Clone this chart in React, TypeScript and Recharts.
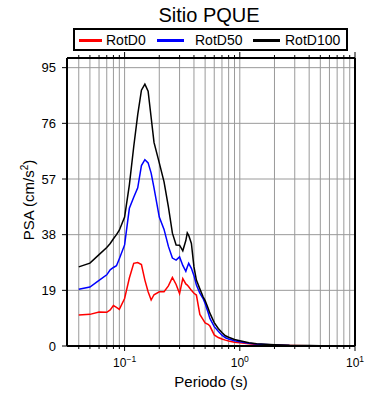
import React from "react";
import { LineChart, Line, XAxis, YAxis, CartesianGrid, Label } from "recharts";

const periods = [
  0.04, 0.05, 0.06, 0.07, 0.075, 0.08, 0.085, 0.09, 0.1, 0.11, 0.12, 0.13, 0.14, 0.15, 0.16, 0.17, 0.18,
  0.2, 0.22, 0.24, 0.26, 0.28, 0.3, 0.32, 0.34, 0.35, 0.36, 0.38, 0.4, 0.42, 0.45, 0.48, 0.5, 0.53, 0.55,
  0.6, 0.65, 0.7, 0.75, 0.8, 0.9, 1.0, 1.2, 1.4, 2, 2.7, 4, 5, 7.5, 10,
];

const rotD0 = [
  10.6, 10.8, 11.6, 11.5, 12.3, 13.8, 13.2, 12.5, 16.2, 23.2, 28.2, 28.5, 27.8, 22.5, 18.5, 15.7, 17.5,
  18.5, 18.5, 20.5, 23.4, 21, 17.9, 23, 21.2, 20.8, 20.2, 19, 18, 17.4, 10.8, 9, 7.9, 7.4, 6.8,
  3.8, 2.9, 2.4, 2.0, 1.7, 1.3, 1.1, 0.75, 0.5, 0.3, 0.15, 0.09, 0.06, 0.04, 0.02,
];

const rotD50 = [
  19.4, 20.1, 22.4, 24.3, 26, 26.8, 27.4, 29.8, 34.5, 47, 50.8, 54, 61.6, 63.6, 62.5, 59, 54,
  44, 39.8, 34, 30, 29.3, 30.4, 27.5, 25.5, 27, 28.2, 26.5, 24, 20.8, 18, 16.2, 14.5, 11.5, 9.4,
  6.6, 5, 3.7, 2.8, 2.4, 1.8, 1.45, 0.95, 0.65, 0.38, 0.2, 0.12, 0.08, 0.05, 0.03,
];

const rotD100 = [
  27, 28.3, 31.2, 33.6, 35, 36.6, 38, 39.5, 44, 55, 68, 79, 87.3, 89.4, 87, 78, 69.5,
  62.5, 56, 47.5, 38.5, 34.5, 34.4, 32.5, 36, 38.6, 37.8, 35, 27, 22.5, 19.5, 16.8, 15.5, 13, 11.2,
  8, 6, 4.6, 3.5, 3, 2.2, 1.8, 1.1, 0.8, 0.45, 0.25, 0.14, 0.1, 0.06, 0.04,
];

const xTicks = [
  0.04, 0.05, 0.06, 0.07, 0.08, 0.09, 0.1, 0.2, 0.3, 0.4, 0.5, 0.6, 0.7, 0.8, 0.9, 1, 2, 3, 4, 5, 6, 7, 8, 9, 10,
];
const yTicks = [0, 19, 38, 57, 76, 95];

const series = [
  { key: "rotD0", name: "RotD0", color: "#ff0000" },
  { key: "rotD50", name: "RotD50", color: "#0000ff" },
  { key: "rotD100", name: "RotD100", color: "#000000" },
];

const rows = periods.map((p, i) => ({
  period: p,
  rotD0: rotD0[i],
  rotD50: rotD50[i],
  rotD100: rotD100[i],
}));

const xDomain = [Math.pow(10, -1.5), 10];
const yDomain = [0, 98.3];

const isMajor = (v: number) => Math.abs(Math.log10(v) - Math.round(Math.log10(v))) < 1e-6;
const expText = (v: number) => {
  const e = Math.round(Math.log10(v));
  return e < 0 ? "\u2212" + -e : String(e);
};

function BottomTick(props: any) {
  const { x, y, payload } = props;
  const v = payload.value;
  const major = isMajor(v);
  return (
    <g>
      <line x1={x} x2={x} y1={y} y2={y + (major ? 5 : 3)} stroke="#000" strokeWidth={1} />
      {major && (
        <text x={x} y={y + 21} textAnchor="middle" fontSize={12} fill="#000">
          10
          <tspan dy={-5} fontSize={8.5}>
            {expText(v)}
          </tspan>
        </text>
      )}
    </g>
  );
}

function TopTick(props: any) {
  const { x, y, payload } = props;
  const major = isMajor(payload.value);
  return <line x1={x} x2={x} y1={y} y2={y - (major ? 6 : 3)} stroke="#000" strokeWidth={1} />;
}

function YTitle() {
  return (
    <text transform="translate(34, 200) rotate(-90)" textAnchor="middle" fontSize={15} fill="#000">
      PSA (cm/s
      <tspan dy={-6} fontSize={10}>
        2
      </tspan>
      <tspan dy={6}>)</tspan>
    </text>
  );
}

function XTitle() {
  return (
    <text x={211} y={387} textAnchor="middle" fontSize={15} fill="#000">
      Periodo (s)
    </text>
  );
}

const legendPos = [
  { swatch: 79, width: 23, text: 106 },
  { swatch: 157, width: 27, text: 195 },
  { swatch: 253, width: 27, text: 285 },
];

export default function App() {
  const frame = { stroke: "#000", strokeWidth: 2 };
  return (
    <div
      style={{
        position: "absolute",
        left: 0,
        top: 0,
        width: 390,
        height: 400,
        background: "#fff",
        fontFamily: '"Liberation Sans", Arial, sans-serif',
      }}
    >
      <div
        style={{
          position: "absolute",
          left: 0,
          top: 5,
          width: 418,
          textAlign: "center",
          fontSize: 20,
          lineHeight: "20px",
        }}
      >
        Sitio PQUE
      </div>
      <div
        style={{
          position: "absolute",
          left: 73,
          top: 28,
          width: 275,
          height: 23,
          border: "2px solid #000",
          boxSizing: "border-box",
        }}
      />
      {series.map((s, i) => (
        <React.Fragment key={s.key}>
          <div
            style={{
              position: "absolute",
              left: legendPos[i].swatch,
              top: 38.5,
              width: legendPos[i].width,
              height: 3,
              background: s.color,
            }}
          />
          <div
            style={{
              position: "absolute",
              left: legendPos[i].text,
              top: 33,
              fontSize: 14,
              lineHeight: "14px",
              whiteSpace: "nowrap",
            }}
          >
            {s.name}
          </div>
        </React.Fragment>
      ))}
      <LineChart width={390} height={400} data={rows} margin={{ top: 53, right: 30, bottom: 10, left: 0 }}>
        <CartesianGrid stroke="#9a9a9a" strokeWidth={1} />
        <XAxis
          dataKey="period"
          type="number"
          scale="log"
          domain={xDomain}
          ticks={xTicks}
          interval={0}
          height={44}
          tickSize={0}
          tickMargin={0}
          tickLine={false}
          axisLine={frame}
          tick={<BottomTick />}
        >
          <Label content={<XTitle />} />
        </XAxis>
        <XAxis
          xAxisId="top"
          orientation="top"
          dataKey="period"
          type="number"
          scale="log"
          domain={xDomain}
          ticks={xTicks}
          interval={0}
          height={5}
          tickSize={0}
          tickMargin={0}
          tickLine={false}
          axisLine={frame}
          tick={<TopTick />}
        />
        <YAxis
          type="number"
          domain={yDomain}
          ticks={yTicks}
          interval={0}
          width={67}
          tickSize={5}
          tickMargin={6}
          tickLine={{ stroke: "#000" }}
          axisLine={frame}
          tick={{ fill: "#000", fontSize: 13 }}
        >
          <Label content={<YTitle />} />
        </YAxis>
        <YAxis
          yAxisId="right"
          orientation="right"
          type="number"
          domain={yDomain}
          ticks={yTicks}
          interval={0}
          width={5}
          tickSize={4}
          tickLine={{ stroke: "#000" }}
          axisLine={frame}
          tick={false}
        />
        {series.map((s) => (
          <Line
            key={s.key}
            type="linear"
            dataKey={s.key}
            stroke={s.color}
            strokeWidth={1.5}
            dot={false}
            isAnimationActive={false}
          />
        ))}
      </LineChart>
    </div>
  );
}
